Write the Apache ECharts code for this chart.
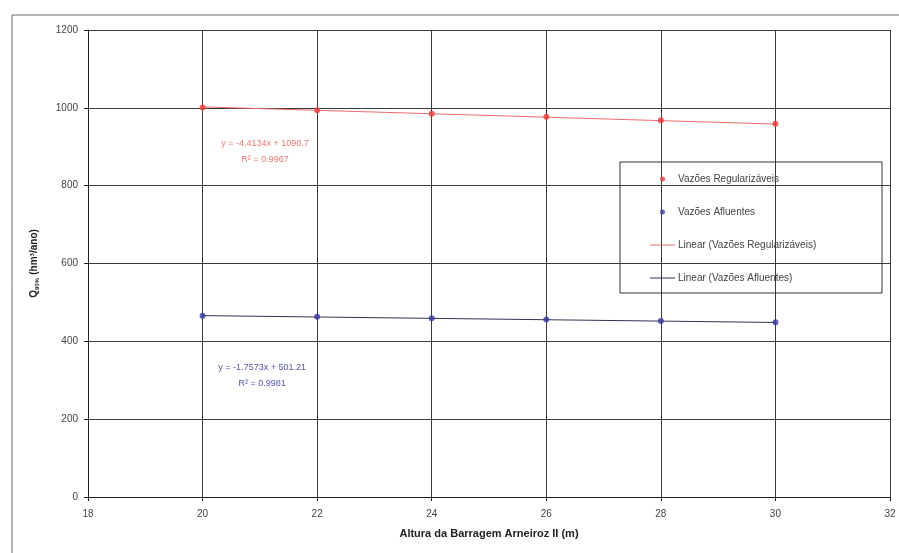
<!DOCTYPE html>
<html><head><meta charset="utf-8">
<script src="https://cdn.jsdelivr.net/npm/echarts@6/dist/echarts.min.js"></script>
<style>html,body{margin:0;padding:0;background:#fff}#c{width:899px;height:553px}</style>
</head><body><div id="c"></div>
<script>
const alturas = [20, 22, 24, 26, 28, 30];
const vazoesRegularizaveis = [1001, 994, 985, 977, 968, 959];
const vazoesAfluentes = [466, 463, 459, 456, 452, 449];
const trendReg = {slope: -4.4134, intercept: 1090.7, r2: '0.9967'};
const trendAfl = {slope: -1.7573, intercept: 501.21, r2: '0.9981'};
const xTicks = [18, 20, 22, 24, 26, 28, 30, 32];
const yTicks = [0, 200, 400, 600, 800, 1000, 1200];

const trend = (t) => alturas.map(x => [x, t.slope * x + t.intercept]);
const chart = echarts.init(document.getElementById('c'));
const font = 'Liberation Sans, Arial, sans-serif';
const lineIcon = 'path://M0,0 L25,0 L25,1 L0,1 Z';
const eqLabel = (t, color) => ({
  show: true, position: 'inside',
  formatter: 'y = ' + t.slope + 'x + ' + t.intercept + '\nR² = ' + t.r2,
  fontFamily: font, fontSize: 9, color: color, lineHeight: 16, align: 'center'
});
chart.setOption({
  animation: false,
  backgroundColor: '#fff',
  grid: {left: 88, right: 9, top: 30, bottom: 56},
  xAxis: {
    type: 'value', min: xTicks[0], max: xTicks[xTicks.length-1], interval: 2,
    name: 'Altura da Barragem Arneiroz II (m)', nameLocation: 'middle', nameGap: 31,
    nameTextStyle: {fontFamily: font, fontSize: 11, color: '#222', fontWeight: 'bold'},
    axisLine: {lineStyle: {color: '#222', width: 1}},
    axisTick: {show: true, length: 4, lineStyle: {color: '#222'}},
    axisLabel: {fontFamily: font, fontSize: 10, color: '#444', margin: 12},
    splitLine: {show: true, lineStyle: {color: '#3a3a3a', width: 1}}
  },
  yAxis: {
    type: 'value', min: yTicks[0], max: yTicks[yTicks.length-1], interval: 200,
    name: '{q|Q}{s|90%} {q|(hm³/ano)}', nameLocation: 'middle', nameGap: 48,
    nameTextStyle: {rich: {
      q: {fontFamily: font, fontSize: 10, color: '#222', fontWeight: 'bold'},
      s: {fontFamily: font, fontSize: 6, color: '#222', fontWeight: 'bold', verticalAlign: 'bottom', padding: [4,0,0,0]}
    }},
    axisLine: {show: true, lineStyle: {color: '#222', width: 1}},
    axisTick: {show: true, length: 4, lineStyle: {color: '#222'}},
    axisLabel: {fontFamily: font, fontSize: 10, color: '#444', margin: 10, formatter: v => String(v)},
    splitLine: {show: true, lineStyle: {color: '#3a3a3a', width: 1}}
  },
  legend: {
    orient: 'vertical', left: 620, top: 162,
    itemGap: 23, itemWidth: 25, itemHeight: 5,
    padding: [12, 10, 10, 30],
    textStyle: {fontFamily: font, fontSize: 10, color: '#444', padding: [0,0,0,-2]},
    data: [
      {name: 'Vazões Regularizáveis', icon: 'circle'},
      {name: 'Vazões Afluentes', icon: 'circle'},
      {name: 'Linear (Vazões Regularizáveis)', icon: lineIcon},
      {name: 'Linear (Vazões Afluentes)', icon: lineIcon}
    ]
  },
  series: [
    {name: 'Linear (Vazões Regularizáveis)', type: 'line', data: trend(trendReg), symbol: 'none',
     lineStyle: {color: '#f26a6a', width: 1}, itemStyle: {color: '#f26a6a'}, z: 3},
    {name: 'Linear (Vazões Afluentes)', type: 'line', data: trend(trendAfl), symbol: 'none',
     lineStyle: {color: '#333355', width: 1}, itemStyle: {color: '#333355'}, z: 3},
    {name: 'Vazões Regularizáveis', type: 'scatter', data: alturas.map((x,i)=>[x, vazoesRegularizaveis[i]]),
     symbol: 'circle', symbolSize: 6, itemStyle: {color: '#ee3b3b'}, z: 5,
     markPoint: {symbol: 'circle', symbolSize: 1, silent: true, itemStyle: {color: 'rgba(0,0,0,0)'},
       data: [{coord: [21.09, 889], label: eqLabel(trendReg, '#e77')}]}},
    {name: 'Vazões Afluentes', type: 'scatter', data: alturas.map((x,i)=>[x, vazoesAfluentes[i]]),
     symbol: 'circle', symbolSize: 6, itemStyle: {color: '#3a3aa0'}, z: 5,
     markPoint: {symbol: 'circle', symbolSize: 1, silent: true, itemStyle: {color: 'rgba(0,0,0,0)'},
       data: [{coord: [21.04, 311], label: eqLabel(trendAfl, '#55a')}]}}
  ],
  graphic: [
    {type: 'rect', shape: {x: 12, y: 15, width: 890, height: 540}, silent: true,
     style: {fill: 'none', stroke: '#666', lineWidth: 1}, z: -10},
    {type: 'rect', shape: {x: 620, y: 162, width: 262, height: 131}, silent: true,
     style: {fill: '#fff', stroke: '#333', lineWidth: 1}, z: 0}
  ]
});
</script></body></html>
